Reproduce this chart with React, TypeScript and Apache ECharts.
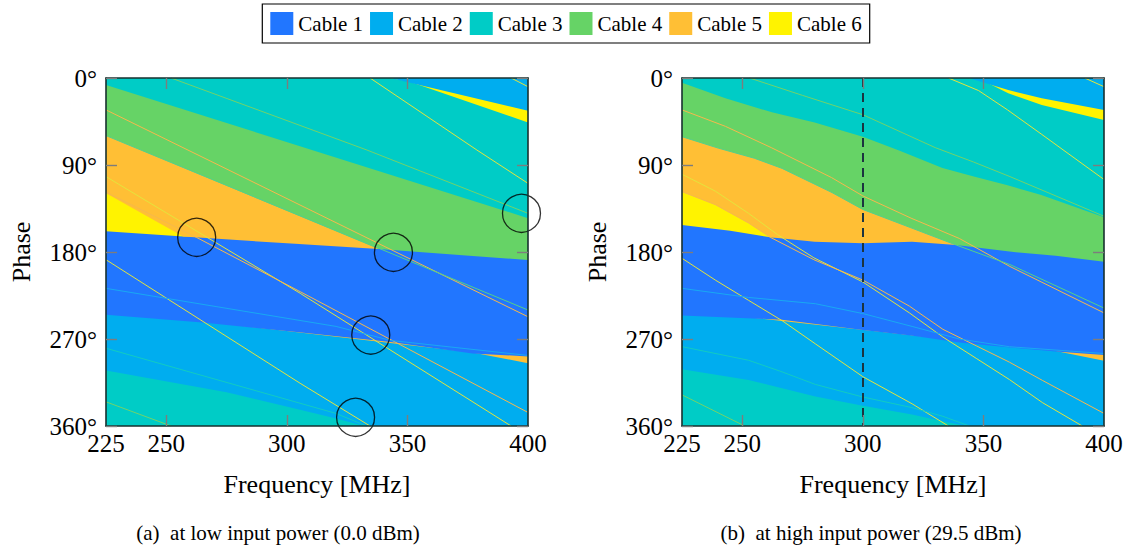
import { useEffect, useRef } from "react";
import * as echarts from "echarts";

// ---------- data ----------
const cableNames = ["Cable 1", "Cable 2", "Cable 3", "Cable 4", "Cable 5", "Cable 6"];
const cableColors = ["#2176ff", "#00adef", "#00ccc6", "#66d366", "#ffbf35", "#fff300"];
const freqLabels = [225, 250, 300, 350, 400];
const freqTicks = [250, 300, 350];

// (a) low power: lower edges of coloured bands [MHz, deg], painted back to front
const lowBottomCable3 = [[225, 360], [400, 360]];
const lowEdgeCable2 = [[225, 302.6], [275, 325], [305, 343], [320, 352], [332, 360], [400, 360]];
const lowEdgeCable5Sliver = [[225, 240], [377, 284], [400, 295]];
const lowEdgeCable1 = [[225, 245], [265, 253], [305, 263], [343, 273], [377, 285], [400, 288]];
const lowEdgeCable6 = [[225, 158.6], [257, 164], [400, 164]];
const lowEdgeCable5 = [[225, 119.3], [257, 164], [300, 171], [338, 177], [400, 177]];
const lowEdgeCable4 = [[225, 59.6], [338, 177], [400, 188.3]];
const lowEdgeCable3 = [[225, 7.3], [400, 145]];
const lowEdgeCable6Top = [[225, 0], [342.8, 0], [351, 4], [400, 46]];
const lowEdgeCable2Top = [[225, 0], [342.8, 0], [400, 33.8]];

// (b) high power
const highBottomCable3 = [[225, 360], [400, 360]];
const highEdgeCable2 = [[225, 301.3], [252.6, 312.3], [280.3, 329.5], [300, 339], [320.4, 348], [333, 355], [342.8, 360], [400, 360]];
const highEdgeCable5Sliver = [[225, 240], [380, 282.5], [400, 292.4]];
const highEdgeCable1 = [[225, 245.8], [266.5, 250], [300, 260.7], [320, 266.5], [340, 273.5], [360, 278.5], [380, 283], [400, 286.5]];
const highEdgeCable6 = [[225, 152], [245, 158], [261.6, 164.8], [400, 164.8]];
const highEdgeCable5 = [[225, 117.6], [238.8, 131], [252.6, 150], [261.6, 164.8], [280, 169.5], [300, 171], [320.4, 169.5], [338.7, 172.8], [400, 172.8]];
const highEdgeCable4 = [[225, 60.7], [240, 72.5], [255, 83], [266.5, 93.5], [287.2, 118.5], [300, 136], [320, 155], [338.7, 172.8], [360.8, 179.6], [380, 184], [400, 190]];
const highEdgeCable3 = [[225, 4.8], [243, 21], [262.3, 35.5], [280, 46], [300, 60.7], [315, 75], [333, 93], [346, 102], [360, 111], [374, 121], [400, 144]];
const highEdgeCable6Top = [[225, 0], [343.8, 0], [349.3, 2], [360.3, 15.9], [374.2, 27.9], [400, 43.4]];
const highEdgeCable2Top = [[225, 0], [343.8, 0], [360.3, 12.4], [374.2, 21], [400, 33.1]];

// thin phase curves (a)
const lowCurveO1 = [[225, 33], [400, 247]];
const lowCurveG1 = [[225, 59.6], [338, 176], [400, 240]];
const lowCurveY1a = [[225, 102], [305.5, 222.7], [393, 360]];
const lowCurveY1b = [[393, 0], [400, 9]];
const lowCurveO2 = [[225, 118], [262.6, 165], [305.5, 221], [400, 346]];
const lowCurveY2a = [[225, 188], [305.5, 315.8], [334.5, 360]];
const lowCurveY2b = [[334.5, 0], [378.8, 74.5], [400, 109]];
const lowCurveLB1 = [[225, 217.6], [320.4, 257], [343, 271.5], [400, 287]];
const lowCurveT1 = [[225, 279.6], [320.4, 347], [333, 360]];
const lowCurveG2a = [[225, 335], [252, 360]];
const lowCurveG2b = [[252, 0], [333.2, 74.5], [400, 140]];
const lowCircles = [[262.6, 164.8], [344.2, 180.3], [334.8, 265.9], [328.5, 351], [397.3, 140]];

// thin phase curves (b)
const highCurveO1 = [[225, 33], [243, 50], [262, 72], [287, 103], [300, 122], [320, 145], [340, 166], [361, 195], [400, 243]];
const highCurveG1 = [[225, 60.7], [240, 72.5], [255, 83], [266.5, 93.5], [287.2, 118.5], [300, 136], [320, 155], [338.7, 172.8], [361, 193], [400, 238]];
const highCurveY1a = [[225, 99.6], [238.8, 117], [252.6, 140], [264.6, 162], [279.7, 186], [300, 211], [319.3, 243], [333.2, 268], [347, 290], [360.8, 312], [374.6, 336], [391, 360]];
const highCurveY1b = [[392, 0], [400, 9]];
const highCurveO2 = [[225, 117.6], [238.8, 131], [252.6, 150], [261.6, 164.8], [279.7, 188], [300, 209], [319.3, 236], [333.2, 260], [347, 277], [360.8, 294], [374.6, 313], [400, 347]];
const highCurveY2a = [[225, 186.5], [238.8, 209], [252.6, 230], [266.5, 251], [280.3, 275], [300, 309], [320.4, 337], [335.5, 360]];
const highCurveY2b = [[335.5, 0], [348, 13], [360, 33], [374, 58], [400, 105]];
const highCurveLB1 = [[225, 217.6], [252.6, 227], [280.3, 233.5], [300, 243.7], [320.4, 257], [340, 270], [360.8, 278], [400, 285]];
const highCurveT1 = [[225, 277.9], [252.6, 292], [266.5, 304], [280.3, 317], [300, 330], [320.4, 341], [333.2, 350], [344.2, 360]];
const highCurveG2a = [[225, 327.8], [251, 360]];
const highCurveG2b = [[253, 0], [275, 18], [300, 38], [330, 72], [346, 87], [361, 102], [400, 143]];
const highMarkerFreq = 300;

const curveColors = { O: "#f6b84c", G: "#55cf8a", Y: "#e4e43c", LB: "#19a9f2", T: "#12cbc2", G2: "#72d36a" };

const FONT = "Liberation Serif";

function colorOf(name: string) {
  return cableColors[cableNames.indexOf(name)];
}

function area(name: string, data: number[][], ax: number) {
  const c = colorOf(name);
  return {
    type: "line",
    name,
    xAxisIndex: ax,
    yAxisIndex: ax,
    data,
    symbol: "none",
    showSymbol: false,
    color: c,
    itemStyle: { color: c },
    lineStyle: { width: 0, opacity: 0 },
    areaStyle: { color: c, opacity: 1 },
    silent: true,
    z: 1,
  };
}

function curve(id: string, data: number[][], color: string, ax: number, extra: any = {}) {
  return {
    type: "line",
    name: id,
    xAxisIndex: ax,
    yAxisIndex: ax,
    data,
    symbol: "none",
    showSymbol: false,
    lineStyle: { width: 1, color },
    silent: true,
    z: 1,
    ...extra,
  };
}

function axesFor(grid: number) {
  const lineStyle = { show: true, onZero: false, lineStyle: { color: "#17302f", width: 1.6 } };
  const tick = { show: true, inside: true, length: 11, lineStyle: { color: "#7d7d7d", width: 1.4 } };
  const x = [
    {
      type: "value",
      gridIndex: grid,
      min: 225,
      max: 400,
      position: "bottom",
      z: 10,
      name: "Frequency [MHz]",
      nameLocation: "middle",
      nameGap: 45,
      nameTextStyle: { fontSize: 26, fontFamily: FONT, color: "#000" },
      axisLine: lineStyle,
      axisTick: { ...tick, customValues: freqTicks },
      axisLabel: { customValues: freqLabels, fontSize: 25, fontFamily: FONT, color: "#000", margin: 5 },
      splitLine: { show: false },
    },
    {
      type: "value",
      gridIndex: grid,
      min: 225,
      max: 400,
      position: "top",
      z: 10,
      axisLine: lineStyle,
      axisTick: { ...tick, customValues: freqTicks },
      axisLabel: { show: false },
      splitLine: { show: false },
    },
  ];
  const y = [
    {
      type: "value",
      gridIndex: grid,
      min: 0,
      max: 360,
      interval: 90,
      inverse: true,
      position: "left",
      z: 10,
      name: "Phase",
      nameLocation: "middle",
      nameGap: 72,
      nameRotate: 90,
      nameTextStyle: { fontSize: 26, fontFamily: FONT, color: "#000" },
      axisLine: lineStyle,
      axisTick: tick,
      axisLabel: { formatter: "{value}°", fontSize: 25, fontFamily: FONT, color: "#000", margin: 9 },
      splitLine: { show: false },
    },
    {
      type: "value",
      gridIndex: grid,
      min: 0,
      max: 360,
      interval: 90,
      inverse: true,
      position: "right",
      z: 10,
      axisLine: lineStyle,
      axisTick: tick,
      axisLabel: { show: false },
      splitLine: { show: false },
    },
  ];
  return { x, y };
}

export default function App() {
  const ref = useRef<HTMLDivElement>(null);
  useEffect(() => {
    if (!ref.current) return;
    const chart = echarts.init(ref.current, null, { renderer: "svg" });
    const a0 = axesFor(0);
    const a1 = axesFor(1);

    const series: any[] = [
      area("Cable 3", lowBottomCable3, 0),
      area("Cable 2", lowEdgeCable2, 0),
      area("Cable 5", lowEdgeCable5Sliver, 0),
      area("Cable 1", lowEdgeCable1, 0),
      area("Cable 6", lowEdgeCable6, 0),
      area("Cable 5", lowEdgeCable5, 0),
      area("Cable 4", lowEdgeCable4, 0),
      area("Cable 3", lowEdgeCable3, 0),
      area("Cable 6", lowEdgeCable6Top, 0),
      area("Cable 2", lowEdgeCable2Top, 0),
      curve("a-o1", lowCurveO1, curveColors.O, 0),
      curve("a-g1", lowCurveG1, curveColors.G, 0),
      curve("a-y1a", lowCurveY1a, curveColors.Y, 0),
      curve("a-y1b", lowCurveY1b, curveColors.Y, 0),
      curve("a-o2", lowCurveO2, curveColors.O, 0),
      curve("a-y2a", lowCurveY2a, curveColors.Y, 0),
      curve("a-y2b", lowCurveY2b, curveColors.Y, 0),
      curve("a-lb1", lowCurveLB1, curveColors.LB, 0),
      curve("a-t1", lowCurveT1, curveColors.T, 0),
      curve("a-g2a", lowCurveG2a, curveColors.G2, 0),
      curve("a-g2b", lowCurveG2b, curveColors.G2, 0),
      {
        type: "scatter",
        name: "a-circles",
        xAxisIndex: 0,
        yAxisIndex: 0,
        data: lowCircles,
        symbol: "circle",
        symbolSize: 38,
        clip: false,
        silent: true,
        itemStyle: { color: "rgba(0,0,0,0)", borderColor: "#000", borderWidth: 1.3 },
        z: 1,
      },
      area("Cable 3", highBottomCable3, 2),
      area("Cable 2", highEdgeCable2, 2),
      area("Cable 5", highEdgeCable5Sliver, 2),
      area("Cable 1", highEdgeCable1, 2),
      area("Cable 6", highEdgeCable6, 2),
      area("Cable 5", highEdgeCable5, 2),
      area("Cable 4", highEdgeCable4, 2),
      area("Cable 3", highEdgeCable3, 2),
      area("Cable 6", highEdgeCable6Top, 2),
      area("Cable 2", highEdgeCable2Top, 2),
      curve("b-o1", highCurveO1, curveColors.O, 2),
      curve("b-g1", highCurveG1, curveColors.G, 2),
      curve("b-y1a", highCurveY1a, curveColors.Y, 2),
      curve("b-y1b", highCurveY1b, curveColors.Y, 2),
      curve("b-o2", highCurveO2, curveColors.O, 2),
      curve("b-y2a", highCurveY2a, curveColors.Y, 2),
      curve("b-y2b", highCurveY2b, curveColors.Y, 2),
      curve("b-lb1", highCurveLB1, curveColors.LB, 2),
      curve("b-t1", highCurveT1, curveColors.T, 2),
      curve("b-g2a", highCurveG2a, curveColors.G2, 2),
      curve("b-g2b", highCurveG2b, curveColors.G2, 2, {
        markLine: {
          silent: true,
          symbol: "none",
          label: { show: false },
          lineStyle: { type: [9, 6], color: "#1c3440", width: 2 },
          data: [{ xAxis: highMarkerFreq }],
        },
      }),
    ];

    chart.setOption({
      animation: false,
      backgroundColor: "#fff",
      textStyle: { fontFamily: FONT },
      legend: {
        data: cableNames,
        top: 4,
        left: "center",
        icon: "rect",
        itemWidth: 23,
        itemHeight: 23,
        itemGap: 7,
        padding: [8, 8],
        borderColor: "#000",
        borderWidth: 1.2,
        borderRadius: 0,
        selectedMode: false,
        textStyle: { fontSize: 21, fontFamily: FONT, color: "#000" },
      },
      grid: [
        { left: 106, top: 78, width: 422, height: 348, containLabel: false },
        { left: 682, top: 78, width: 422, height: 348, containLabel: false },
      ],
      xAxis: [...a0.x, ...a1.x.map((a: any) => ({ ...a, gridIndex: 1 }))],
      yAxis: [...a0.y, ...a1.y.map((a: any) => ({ ...a, gridIndex: 1 }))],
      series,
      graphic: [
        {
          type: "text",
          x: 278,
          y: 533,
          style: {
            text: "(a)  at low input power (0.0 dBm)",
            fontSize: 21,
            fontFamily: FONT,
            fill: "#000",
            align: "center",
            verticalAlign: "middle",
          },
        },
        {
          type: "text",
          x: 871,
          y: 533,
          style: {
            text: "(b)  at high input power (29.5 dBm)",
            fontSize: 21,
            fontFamily: FONT,
            fill: "#000",
            align: "center",
            verticalAlign: "middle",
          },
        },
      ],
    });
    return () => chart.dispose();
  }, []);
  return (
    <div
      ref={ref}
      style={{ position: "absolute", left: 0, top: 0, width: 1132, height: 550, background: "#fff" }}
    />
  );
}
